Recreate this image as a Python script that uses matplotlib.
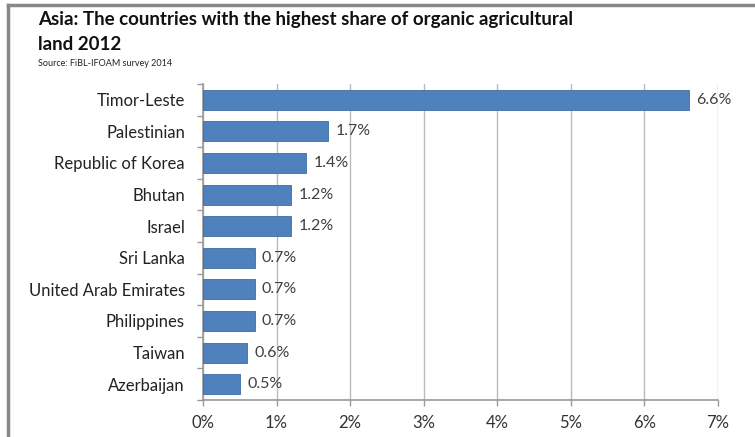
import matplotlib.pyplot as plt
from matplotlib.lines import Line2D

countries = ["Timor-Leste", "Palestinian", "Republic of Korea", "Bhutan", "Israel",
             "Sri Lanka", "United Arab Emirates", "Philippines", "Taiwan", "Azerbaijan"]
shares = [6.6, 1.7, 1.4, 1.2, 1.2, 0.7, 0.7, 0.7, 0.6, 0.5]
xticks = [0, 1, 2, 3, 4, 5, 6, 7]

plt.rcParams['font.family'] = ['Lato', 'DejaVu Sans']

fig = plt.figure(figsize=(7.55, 4.37), dpi=100)
ax = fig.add_axes([0.2689, 0.0847, 0.951 - 0.2689, 0.8078 - 0.0847])

ypos = list(range(len(countries)))
ax.barh(ypos, shares, height=0.63, color='#4F81BD', edgecolor='#3E6CA3', lw=0.6, zorder=3)
for y, v in zip(ypos, shares):
    ax.text(v + 0.1, y, "%.1f%%" % v, va='center', ha='left', fontsize=11.5, color='#404040')

ax.set_ylim(len(countries) - 0.5, -0.5)
ax.set_xlim(0, 7)
ax.set_xticks(xticks, ["%d%%" % t for t in xticks])
ax.set_yticks(ypos, countries)
ax.tick_params(axis='y', length=0, pad=13, labelsize=12, labelcolor='#222222')
ax.tick_params(axis='x', length=4, width=1, color='#999999', pad=7, labelsize=12, labelcolor='#333333')
# category boundary ticks on the left axis
ax.set_yticks([i + 0.5 for i in range(-1, len(countries))], minor=True)
ax.tick_params(axis='y', which='minor', length=4, width=1, color='#999999', direction='out')

ax.grid(axis='x', color='#BBBBBB', lw=1, zorder=0)
for s in ['top', 'right']:
    ax.spines[s].set_visible(False)
for s in ['left', 'bottom']:
    ax.spines[s].set_color('#999999')
    ax.spines[s].set_linewidth(1.2)

fig.text(38 / 755, 1 - 19 / 437, "Asia: The countries with the highest share of organic agricultural",
         fontsize=13.5, fontweight='bold', va='center', ha='left', color='#111111')
fig.text(38 / 755, 1 - 45 / 437, "land 2012",
         fontsize=13.5, fontweight='bold', va='center', ha='left', color='#111111')
fig.text(38 / 755, 1 - 63 / 437, "Source: FiBL-IFOAM survey 2014",
         fontsize=6.5, va='center', ha='left', color='#222222')

# frame lines along the top and left edges
fig.add_artist(Line2D([8 / 755, 1], [1 - 5 / 437, 1 - 5 / 437], color='#888888', lw=2.5))
fig.add_artist(Line2D([8 / 755, 8 / 755], [0, 1 - 5 / 437], color='#888888', lw=2.5))

fig.savefig("out.png", dpi=100)
